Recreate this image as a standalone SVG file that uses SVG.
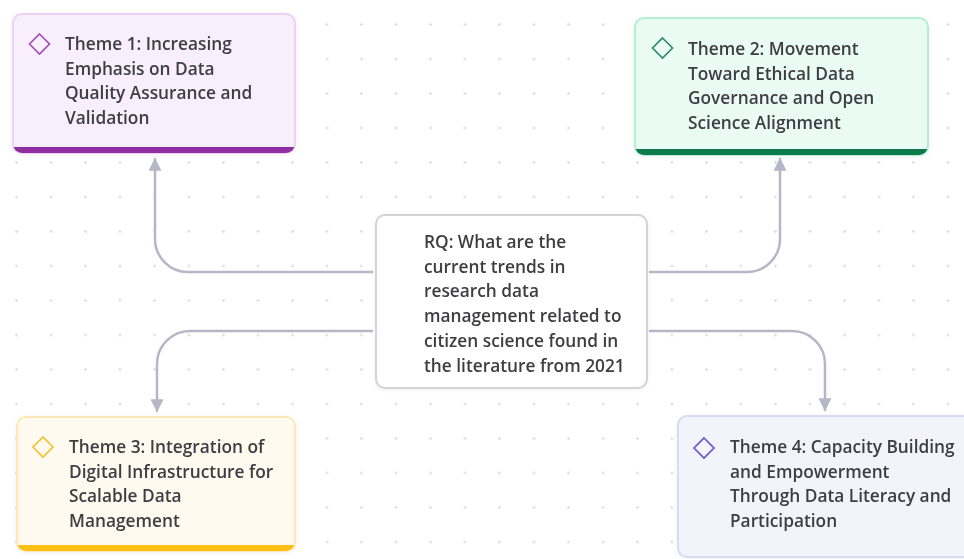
<svg xmlns="http://www.w3.org/2000/svg" width="964" height="559" viewBox="0 0 964 559">
  <style>
    .label { font-family: "Open Sans", "Noto Sans", "Liberation Sans", sans-serif; font-weight: 600; font-size: 17.3px; fill: #3d3d42; }
    .conn { fill: none; stroke: #b6b6c6; stroke-width: 2.5; stroke-linecap: round; marker-end: url(#arrow); }
    .box { stroke-width: 2; }
    .diamond { fill: none; stroke-width: 1.6; }
  </style>
  <defs>
    <pattern id="dots" patternUnits="userSpaceOnUse" x="-0.75" y="7.25" width="34.5" height="34.5">
      <circle cx="17.25" cy="17.25" r="1.3" fill="#dadae0"/>
    </pattern>
    <marker id="arrow" viewBox="0 0 10 10" refX="9" refY="5" markerWidth="5.2" markerHeight="5.2" orient="auto" markerUnits="strokeWidth">
      <path d="M0,0 L10,5 L0,10 Z" fill="#b6b6c6"/>
    </marker>
    <filter id="soft" x="-10%" y="-10%" width="120%" height="120%">
      <feDropShadow dx="0" dy="1" stdDeviation="2" flood-color="#000" flood-opacity="0.06"/>
    </filter>
    <clipPath id="clip1"><rect x="13" y="14" width="282" height="139" rx="9"/></clipPath>
    <clipPath id="clip2"><rect x="635" y="18" width="293" height="137" rx="9"/></clipPath>
    <clipPath id="clip3"><rect x="17" y="417" width="278" height="134" rx="9"/></clipPath>
  </defs>

  <!-- canvas with dotted grid -->
  <rect width="964" height="559" fill="#ffffff"/>
  <rect width="964" height="559" fill="url(#dots)"/>

  <!-- connectors from the research question to each theme -->
  <g id="connectors">
    <path class="conn" d="M372,272 H188 A33,33 0 0 1 155,239 V159"/>
    <path class="conn" d="M372,331 H190 A33,33 0 0 0 157,364 V411"/>
    <path class="conn" d="M650,272 H747 A33,33 0 0 0 780,239 V159"/>
    <path class="conn" d="M650,331 H792 A33,33 0 0 1 825,364 V410"/>
  </g>

  <!-- Theme 1 -->
  <g id="theme1" filter="url(#soft)">
    <rect class="box" x="13" y="14" width="282" height="139" rx="9" fill="#f9eefb" stroke="#ecd2f2"/>
    <rect x="13" y="147" width="282" height="8" fill="#8f2fa1" clip-path="url(#clip1)"/>
    <path class="diamond" d="M39.5,34 L49.5,44 L39.5,54 L29.5,44 Z" stroke="#a04cb2"/>
    <text class="label">
      <tspan x="65" y="50">Theme 1: Increasing</tspan>
      <tspan x="65" y="74.5">Emphasis on Data</tspan>
      <tspan x="65" y="99">Quality Assurance and</tspan>
      <tspan x="65" y="123.5">Validation</tspan>
    </text>
  </g>

  <!-- Theme 2 -->
  <g id="theme2" filter="url(#soft)">
    <rect class="box" x="635" y="18" width="293" height="137" rx="9" fill="#eafbf4" stroke="#b0efd6"/>
    <rect x="635" y="149" width="293" height="8" fill="#0b7a4b" clip-path="url(#clip2)"/>
    <path class="diamond" d="M662.5,38 L672.5,48 L662.5,58 L652.5,48 Z" stroke="#2a8a64"/>
    <text class="label">
      <tspan x="688" y="55">Theme 2: Movement</tspan>
      <tspan x="688" y="79.5">Toward Ethical Data</tspan>
      <tspan x="688" y="104">Governance and Open</tspan>
      <tspan x="688" y="128.5">Science Alignment</tspan>
    </text>
  </g>

  <!-- Research question (centre) -->
  <g id="rq" filter="url(#soft)">
    <rect class="box" x="376" y="215" width="271" height="173" rx="9" fill="#ffffff" stroke="#d2d2d8" stroke-width="1.5"/>
    <text class="label">
      <tspan x="424" y="248">RQ: What are the</tspan>
      <tspan x="424" y="272.7">current trends in</tspan>
      <tspan x="424" y="297.4">research data</tspan>
      <tspan x="424" y="322.1">management related to</tspan>
      <tspan x="424" y="346.8">citizen science found in</tspan>
      <tspan x="424" y="371.5">the literature from 2021</tspan>
    </text>
  </g>

  <!-- Theme 3 -->
  <g id="theme3" filter="url(#soft)">
    <rect class="box" x="17" y="417" width="278" height="134" rx="9" fill="#fffaf0" stroke="#fde9b8"/>
    <rect x="17" y="545" width="278" height="8" fill="#fbbf14" clip-path="url(#clip3)"/>
    <path class="diamond" d="M43,437 L53,447 L43,457 L33,447 Z" stroke="#f3bf2c"/>
    <text class="label">
      <tspan x="69" y="453">Theme 3: Integration of</tspan>
      <tspan x="69" y="477.5">Digital Infrastructure for</tspan>
      <tspan x="69" y="502">Scalable Data</tspan>
      <tspan x="69" y="526.5">Management</tspan>
    </text>
  </g>

  <!-- Theme 4 -->
  <g id="theme4" filter="url(#soft)">
    <rect class="box" x="678" y="416" width="310" height="141" rx="9" fill="#f3f3fb" stroke="#dadaf0"/>
    <path class="diamond" d="M704,438 L714,448 L704,458 L694,448 Z" stroke="#6452c8"/>
    <text class="label">
      <tspan x="730" y="453">Theme 4: Capacity Building</tspan>
      <tspan x="730" y="477.5">and Empowerment</tspan>
      <tspan x="730" y="502">Through Data Literacy and</tspan>
      <tspan x="730" y="526.5">Participation</tspan>
    </text>
  </g>
</svg>
